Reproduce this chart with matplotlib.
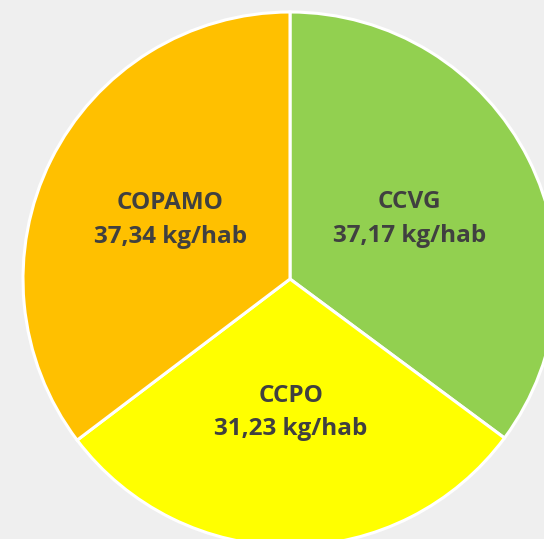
import matplotlib
matplotlib.use("Agg")
import matplotlib.pyplot as plt

categories = ["CCVG", "CCPO", "COPAMO"]
values = [37.17, 31.23, 37.34]
value_labels = ["37,17 kg/hab", "31,23 kg/hab", "37,34 kg/hab"]
colors = ["#92D050", "#FFFF00", "#FFC000"]

fig = plt.figure(figsize=(5.44, 5.39), dpi=100)
fig.patch.set_facecolor("#efefef")
ax = fig.add_axes([0, 0, 1, 1])
ax.set_facecolor("#efefef")

labels = [f"{c}\n{v}" for c, v in zip(categories, value_labels)]
wedges, texts = ax.pie(values, labels=labels, colors=colors, startangle=90,
                       counterclock=False, labeldistance=0.5, radius=1,
                       wedgeprops=dict(edgecolor="white", linewidth=2.2),
                       textprops=dict(color="#404040", fontsize=17.5,
                                      fontweight="bold", family="Open Sans"))
for t in texts:
    t.set_ha("center")
    t.set_va("center")
    t.set_linespacing(1.55)

s = 267.0
ax.set_xlim(-290 / s, (544 - 290) / s)
ax.set_ylim(-(539 - 279) / s, 279 / s)
ax.set_aspect("equal")
ax.axis("off")
fig.savefig("out.png", dpi=100, facecolor=fig.get_facecolor())
